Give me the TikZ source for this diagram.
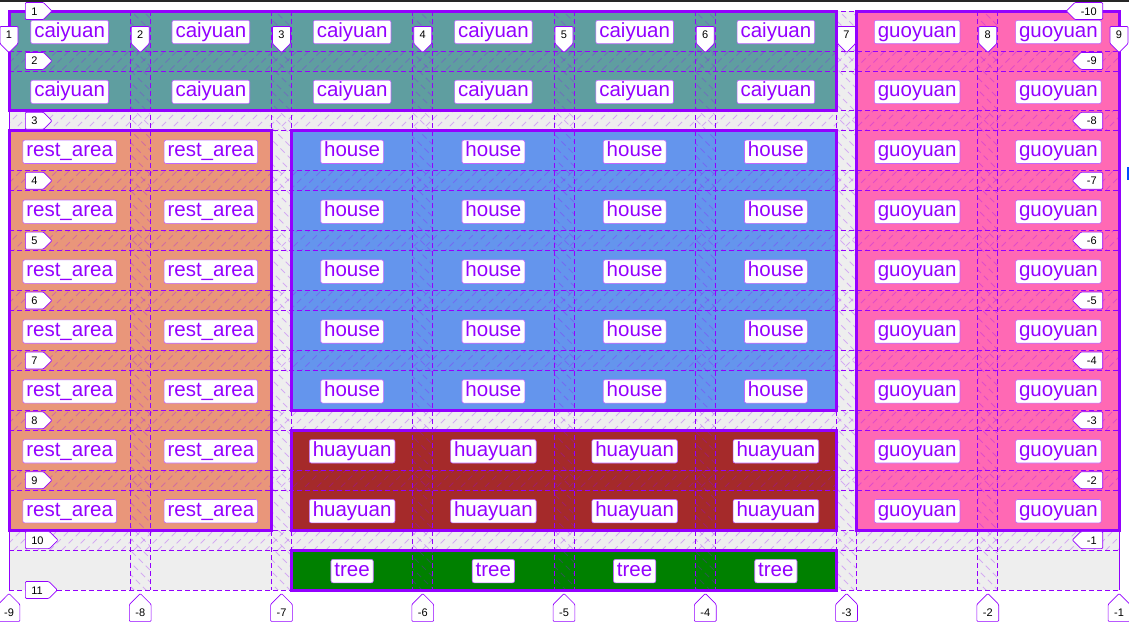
\documentclass[tikz,border=0pt]{standalone}
\usepackage{fontspec}
\setmainfont{Liberation Sans}
\usetikzlibrary{shapes.symbols}
\definecolor{gridline}{HTML}{9400FF}
\definecolor{bggray}{HTML}{EEEEEE}
\definecolor{cadet}{HTML}{5F9EA0}
\definecolor{hotpink}{HTML}{FF69B4}
\definecolor{salmon}{HTML}{E9967A}
\definecolor{cornflower}{HTML}{6495ED}
\definecolor{brick}{HTML}{A52A2A}
\definecolor{leaf}{HTML}{008000}
\tikzset{
  area/.style={draw=gridline, line width=3pt},
  track/.style={gridline, line width=0.8pt, dash pattern=on 5pt off 3pt},
  hatch/.style={gridline, opacity=0.28, line width=0.8pt, dash pattern=on 6pt off 4pt},
  cell/.style={fill=white, draw=gridline!60, line width=0.6pt, rounded corners=2pt,
    text=gridline, font=\fontsize{20.5}{21}\selectfont, inner xsep=3.5pt, inner ysep=2.2pt,
    text height=14.5pt, text depth=4.5pt},
  badge/.style={signal, draw=gridline, fill=white, line width=0.7pt, rounded corners=1pt,
    font=\fontsize{11}{11}\selectfont, inner xsep=6pt, inner ysep=4.5pt,
    text height=8pt, text depth=0pt}
}
\begin{document}
\begin{tikzpicture}[x=1pt, y=-1pt]
    \useasboundingbox (0,0) rectangle (1129,632);
    \fill[black!85] (0,0) rectangle (1129,1.8);
    \foreach \i in {1,...,8} {
        \coordinate (cl\i) at ({9+(\i-1)*141.25},0);
        \coordinate (cr\i) at ({130.25+(\i-1)*141.25},0);
    }
    \foreach \j in {1,...,10} {
        \coordinate (rt\j) at (0,{11+(\j-1)*59.9});
        \coordinate (rb\j) at (0,{50.9+(\j-1)*59.9});
    }
    \fill[bggray] (cl1 |- rt1) rectangle (cr8 |- rb10);
    \draw[area, fill=cadet] (cl1 |- rt1) rectangle (cr6 |- rb2);
    \draw[area, fill=hotpink] (cl7 |- rt1) rectangle (cr8 |- rb9);
    \draw[area, fill=salmon] (cl1 |- rt3) rectangle (cr2 |- rb9);
    \draw[area, fill=cornflower] (cl3 |- rt3) rectangle (cr6 |- rb7);
    \draw[area, fill=brick] (cl3 |- rt8) rectangle (cr6 |- rb9);
    \draw[area, fill=leaf] (cl3 |- rt10) rectangle (cr6 |- rb10);
    \begin{scope}
        \clip \foreach \j in {1,...,9} {(9,{50.9+(\j-1)*59.9}) rectangle (1119,{70.9+(\j-1)*59.9})};
        \foreach \k in {-600,-588,...,1130} \draw[hatch] (\k,600) -- (\k+600,0);
    \end{scope}
    \begin{scope}
        \clip \foreach \i in {1,...,7} {({130.25+(\i-1)*141.25},11) rectangle ({150.25+(\i-1)*141.25},590)};
        \foreach \k in {-600,-588,...,1130} \draw[hatch] (\k,0) -- (\k+600,600);
    \end{scope}
    \foreach \i in {1,...,8}
        \draw[track] (cl\i |- rt1) -- (cl\i |- rb10) (cr\i |- rt1) -- (cr\i |- rb10);
    \foreach \j in {1,...,10}
        \draw[track] (cl1 |- rt\j) -- (cr8 |- rt\j) (cl1 |- rb\j) -- (cr8 |- rb\j);
    \draw[gridline, line width=0.8pt] (cl1 |- rt1) -- (cl1 |- rb10);
    \draw[gridline, line width=0.8pt] (cr8 |- rt1) -- (cr8 |- rb10);
    \foreach \i in {1,...,6}
        \foreach \j in {1,2}
            \node[cell] (caiyuan-\i-\j) at ({69.625+(\i-1)*141.25},{32+(\j-1)*59.9}) {caiyuan};
    \foreach \i in {7,8}
        \foreach \j in {1,...,9}
            \node[cell] (guoyuan-\i-\j) at ({69.625+(\i-1)*141.25},{32+(\j-1)*59.9}) {guoyuan};
    \foreach \i in {1,2}
        \foreach \j in {3,...,9}
            \node[cell] (rest-\i-\j) at ({69.625+(\i-1)*141.25},{32+(\j-1)*59.9}) {rest\_area};
    \foreach \i in {3,...,6} {
        \foreach \j in {3,...,7}
            \node[cell] (house-\i-\j) at ({69.625+(\i-1)*141.25},{32+(\j-1)*59.9}) {house};
        \foreach \j in {8,9}
            \node[cell] (huayuan-\i-\j) at ({69.625+(\i-1)*141.25},{32+(\j-1)*59.9}) {huayuan};
        \node[cell] (tree-\i) at ({69.625+(\i-1)*141.25},571.1) {tree};
    }
    \foreach \n/\y in {1/11,2/60.9,3/120.8,4/180.7,5/240.6,6/300.5,7/360.4,8/420.3,9/480.2,10/540.1,11/590}
        \node[badge, signal to=east, anchor=west] (line-\n) at (25,\y) {\n};
    \foreach \n/\y in {10/11,9/60.9,8/120.8,7/180.7,6/240.6,5/300.5,4/360.4,3/420.3,2/480.2,1/540.1}
        \node[badge, signal to=west, anchor=east] (back-\n) at (1103,\y) {-\n};
    \foreach \n/\x in {1/9,2/140.25,3/281.5,4/422.75,5/564,6/705.25,7/846.5,8/987.75,9/1119} {
        \node[badge, signal to=south, anchor=south] (col-\n) at (\x,53) {\n};
        \pgfmathtruncatemacro\m{10-\n}
        \node[badge, signal to=north, anchor=north] (ncol-\n) at (\x,593) {-\m};
    }
    \fill[blue!70!cyan] (1126.5,167) rectangle (1129,180);
\end{tikzpicture}
\end{document}
